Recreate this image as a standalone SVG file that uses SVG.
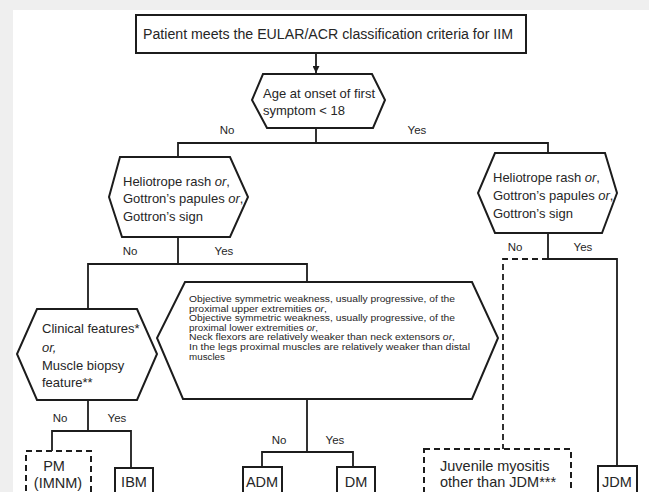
<svg xmlns="http://www.w3.org/2000/svg" width="649" height="492" viewBox="0 0 649 492">
<defs>
<style>
.bg{fill:#efefef}
.panel{fill:#ffffff}
.node{fill:#ffffff;stroke:#1c1c1c;stroke-width:2}
.dash{fill:#ffffff;stroke:#1c1c1c;stroke-width:2;stroke-dasharray:6 4}
.ln{fill:none;stroke:#1c1c1c;stroke-width:1.8}
.dln{fill:none;stroke:#1c1c1c;stroke-width:1.8;stroke-dasharray:6 4}
text{font-family:"Liberation Sans",Arial,sans-serif;fill:#262626}
.t14{font-size:14px}
.t13{font-size:13px}
.t9{font-size:8.5px}
.lbl{font-size:11.5px;text-anchor:middle}
.box{font-size:14.5px;text-anchor:middle}
.jv{font-size:14.5px}
.i{font-style:italic}
</style>
<marker id="arr" viewBox="0 0 10 10" refX="10" refY="5" markerWidth="7" markerHeight="7" markerUnits="userSpaceOnUse" orient="auto">
<path d="M0,0 L10,5 L0,10 Z" fill="#1c1c1c"/>
</marker>
</defs>
<rect class="bg" x="0" y="0" width="649" height="492"/>
<rect class="panel" x="13" y="10" width="636" height="482"/>

<g id="connectors">
<line class="ln" x1="316" y1="54" x2="316" y2="73" marker-end="url(#arr)"/>
<polyline class="ln" points="316,128 316,143"/>
<polyline class="ln" points="178,157 178,143 548,143 548,153"/>
<polyline class="ln" points="178,237 178,264"/>
<polyline class="ln" points="88,309 88,264 307,264 307,283"/>
<polyline class="ln" points="548,233 548,259 617,259 617,466"/>
<polyline class="dln" points="548,259 503,259 503,449"/>
<polyline class="ln" points="88,400 88,431"/>
<polyline class="ln" points="52,451 52,431 131,431 131,468"/>
<polyline class="ln" points="307,399 307,452"/>
<polyline class="ln" points="262,467 262,452 353,452 353,467"/>
<text class="lbl" x="227" y="134">No</text>
<text class="lbl" x="417" y="134">Yes</text>
<text class="lbl" x="130" y="255">No</text>
<text class="lbl" x="224" y="255">Yes</text>
<text class="lbl" x="515" y="251">No</text>
<text class="lbl" x="583" y="251">Yes</text>
<text class="lbl" x="60" y="422">No</text>
<text class="lbl" x="117" y="422">Yes</text>
<text class="lbl" x="279" y="444">No</text>
<text class="lbl" x="335" y="444">Yes</text>
</g>

<g id="n-start">
<rect class="node" x="136" y="15" width="390" height="38"/>
<text class="t14" x="143" y="39" textLength="370" lengthAdjust="spacingAndGlyphs">Patient meets the EULAR/ACR classification criteria for IIM</text>
</g>

<g id="n-age">
<polygon class="node" points="263,74 372,74 385,100 373,128 267,128 252,100"/>
<text class="t13" x="263" y="97.5">Age at onset of first</text>
<text class="t13" x="263" y="114.5">symptom &lt; 18</text>
</g>

<g id="n-rash-adult">
<polygon class="node" points="120,157 230,157 248,197 230,237 122,237 109,197"/>
<text class="t13" x="123" y="185.5">Heliotrope rash <tspan class="i">or</tspan>,</text>
<text class="t13" x="123" y="202.5">Gottron’s papules <tspan class="i">or</tspan>,</text>
<text class="t13" x="123" y="220.5">Gottron’s sign</text>
</g>

<g id="n-rash-juvenile">
<polygon class="node" points="495,153 605,153 617,193 602,233 495,233 478,193"/>
<text class="t13" x="493" y="181.5">Heliotrope rash <tspan class="i">or</tspan>,</text>
<text class="t13" x="493" y="199.5">Gottron’s papules <tspan class="i">or</tspan>,</text>
<text class="t13" x="493" y="217.5">Gottron’s sign</text>
</g>

<g id="n-clinical">
<polygon class="node" points="37,309 137,309 157,354 137,400 37,400 17,354"/>
<text class="t13" x="42" y="332.5">Clinical features*</text>
<text class="t13 i" x="42" y="351.5">or,</text>
<text class="t13" x="42" y="369.5">Muscle biopsy</text>
<text class="t13" x="42" y="386.5">feature**</text>
</g>

<g id="n-weakness">
<polygon class="node" points="185,282 472,282 498,338 472,399 183,399 157,338"/>
<text class="t9" x="189" y="302" textLength="266" lengthAdjust="spacingAndGlyphs">Objective symmetric weakness, usually progressive, of the</text>
<text class="t9" x="189" y="311.6" textLength="138" lengthAdjust="spacingAndGlyphs">proximal upper extremities  <tspan class="i">or</tspan>,</text>
<text class="t9" x="189" y="321.2" textLength="266" lengthAdjust="spacingAndGlyphs">Objective symmetric weakness, usually progressive, of the</text>
<text class="t9" x="189" y="330.8" textLength="129" lengthAdjust="spacingAndGlyphs">proximal lower extremities <tspan class="i">or</tspan>,</text>
<text class="t9" x="189" y="340.4" textLength="266" lengthAdjust="spacingAndGlyphs">Neck flexors are relatively weaker than neck extensors <tspan class="i">or</tspan>,</text>
<text class="t9" x="189" y="350" textLength="281" lengthAdjust="spacingAndGlyphs">In the legs proximal  muscles are relatively weaker than distal</text>
<text class="t9" x="189" y="359.6" textLength="36" lengthAdjust="spacingAndGlyphs">muscles</text>
</g>

<g id="n-pm">
<rect class="dash" x="26" y="451" width="65" height="60"/>
<text class="box" x="54" y="471">PM</text>
<text class="box" x="58" y="488">(IMNM)</text>
</g>

<g id="n-ibm">
<rect class="node" x="115" y="468" width="38" height="40"/>
<text class="box" x="134" y="487">IBM</text>
</g>

<g id="n-adm">
<rect class="node" x="243" y="467" width="39" height="40"/>
<text class="box" x="262" y="487">ADM</text>
</g>

<g id="n-dm">
<rect class="node" x="337" y="467" width="38" height="40"/>
<text class="box" x="356" y="487">DM</text>
</g>

<g id="n-juvenile">
<rect class="dash" x="424" y="449" width="147" height="60"/>
<text class="jv" x="440" y="471">Juvenile myositis</text>
<text class="jv" x="440" y="487">other than JDM***</text>
</g>

<g id="n-jdm">
<rect class="node" x="598" y="466" width="39" height="40"/>
<text class="box" x="617" y="487">JDM</text>
</g>
</svg>
